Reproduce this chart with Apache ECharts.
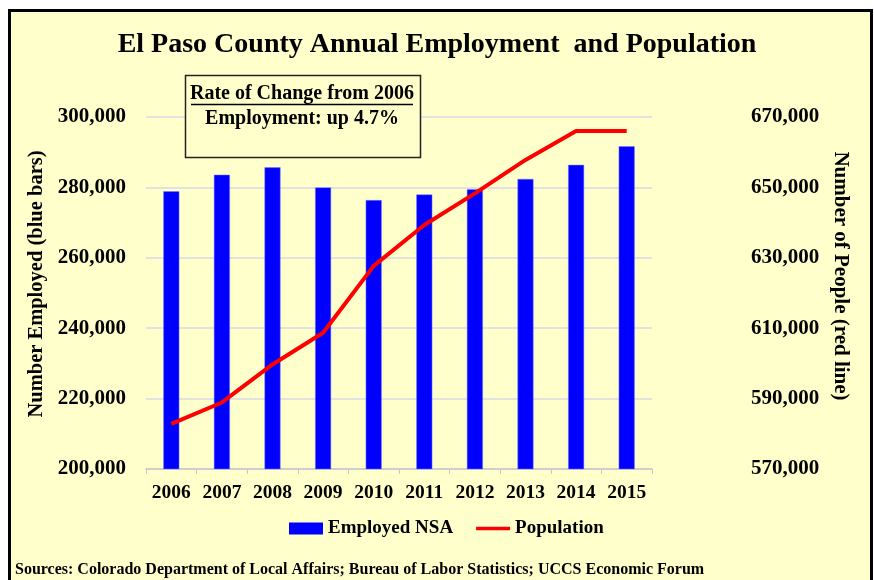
<!DOCTYPE html>
<html>
<head>
<meta charset="utf-8">
<script src="https://cdn.jsdelivr.net/npm/echarts@6/dist/echarts.min.js"></script>
<style>
html,body{margin:0;padding:0;background:#fff;}
#c{width:874px;height:580px;}
</style>
</head>
<body>
<div id="c"></div>
<script>
const years = ['2006','2007','2008','2009','2010','2011','2012','2013','2014','2015'];
const employed = [278900, 283600, 285700, 280000, 276400, 278000, 279500, 282400, 286400, 291700];
const population = [582800, 588900, 599700, 608700, 627700, 639300, 648300, 657800, 666000, 666000];
const leftTicks = {min: 200000, max: 300000, interval: 20000};
const rightTicks = {min: 570000, max: 670000, interval: 20000};

const FONT = '"Liberation Serif", "Times New Roman", serif';
const fmt = v => v.toLocaleString('en-US');
const lineIcon = 'path://M0,0L0.01,0L0,0.01Z M0,4.2L34,4.2L34,7.8L0,7.8Z M0,12L0.01,12L0,11.99Z';

const chart = echarts.init(document.getElementById('c'), null, {renderer: 'canvas'});
chart.setOption({
  backgroundColor: '#ffffff',
  animation: false,
  textStyle: {fontFamily: FONT, fontWeight: 'bold', color: '#000'},
  graphic: [
    {type: 'rect', shape: {x: 9.5, y: 10.5, width: 862, height: 580}, style: {fill: '#FFFFCC', stroke: '#000', lineWidth: 3}, z: -10},
    {type: 'rect', shape: {x: 185.5, y: 75.5, width: 235, height: 82}, style: {fill: '#FFFFCC', stroke: '#222', lineWidth: 1.5}, z: 10},
    {type: 'text', x: 302, y: 94, style: {text: 'Rate of Change from 2006', font: 'bold 20px ' + FONT, fill: '#000', align: 'center', verticalAlign: 'middle'}, z: 11},
    {type: 'line', shape: {x1: 191, y1: 104.5, x2: 413, y2: 104.5}, style: {stroke: '#000', lineWidth: 1.5}, z: 11},
    {type: 'text', x: 302, y: 119, style: {text: 'Employment: up 4.7%', font: 'bold 20px ' + FONT, fill: '#000', align: 'center', verticalAlign: 'middle'}, z: 11},
    {type: 'text', x: 15, y: 570, style: {text: 'Sources: Colorado Department of Local Affairs; Bureau of Labor Statistics; UCCS Economic Forum', font: 'bold 16px ' + FONT, fill: '#000', align: 'left', verticalAlign: 'middle'}, z: 11}
  ],
  title: {
    text: 'El Paso County Annual Employment  and Population',
    left: 'center',
    top: 26,
    textStyle: {fontFamily: FONT, fontWeight: 'bold', fontSize: 28, color: '#000'}
  },
  legend: {
    left: 284,
    top: 514,
    itemGap: 23,
    itemWidth: 34,
    itemHeight: 12,
    textStyle: {fontFamily: FONT, fontWeight: 'bold', fontSize: 19, color: '#000'},
    data: [
      {name: 'Employed NSA', icon: 'rect', itemStyle: {color: '#0000FF', borderWidth: 0}},
      {name: 'Population', icon: lineIcon, itemStyle: {color: '#FF0000', borderWidth: 0}}
    ]
  },
  grid: {left: 146, right: 222, top: 117, bottom: 111, containLabel: false},
  xAxis: {
    type: 'category',
    data: years,
    axisLine: {lineStyle: {color: '#C8C8C8', width: 1.5}},
    axisTick: {show: true, lineStyle: {color: '#C8C8C8'}, length: 5},
    axisLabel: {interval: 0, fontFamily: FONT, fontWeight: 'bold', fontSize: 19.5, color: '#000', margin: 14}
  },
  yAxis: [
    {
      type: 'value',
      min: leftTicks.min, max: leftTicks.max, interval: leftTicks.interval,
      name: 'Number Employed (blue bars)',
      nameLocation: 'middle',
      nameGap: 95,
      nameTextStyle: {fontFamily: FONT, fontWeight: 'bold', fontSize: 20.5, color: '#000', padding: [0, 0, 0, 18]},
      axisLine: {show: false},
      axisTick: {show: false},
      splitLine: {lineStyle: {color: '#D8D8E8', width: 1.5}},
      axisLabel: {fontFamily: FONT, fontWeight: 'bold', fontSize: 21, color: '#000', margin: 20, formatter: fmt}
    },
    {
      type: 'value',
      min: rightTicks.min, max: rightTicks.max, interval: rightTicks.interval,
      name: 'Number of People (red line)',
      nameLocation: 'middle',
      nameGap: 175,
      nameRotate: -90,
      nameTextStyle: {fontFamily: FONT, fontWeight: 'bold', fontSize: 21, color: '#000', padding: [0, 34, 0, 0]},
      axisLine: {show: false},
      axisTick: {show: false},
      splitLine: {show: false},
      axisLabel: {fontFamily: FONT, fontWeight: 'bold', fontSize: 21, color: '#000', margin: 99, formatter: fmt}
    }
  ],
  series: [
    {
      name: 'Employed NSA',
      type: 'bar',
      yAxisIndex: 0,
      data: employed,
      barWidth: 16,
      itemStyle: {color: '#0000FF', borderColor: '#7A7AFF', borderWidth: 0.5}
    },
    {
      name: 'Population',
      type: 'line',
      yAxisIndex: 1,
      data: population,
      symbol: 'none',
      lineStyle: {color: '#FF0000', width: 4},
      itemStyle: {color: '#FF0000'},
      z: 5
    }
  ]
});
</script>
</body>
</html>
